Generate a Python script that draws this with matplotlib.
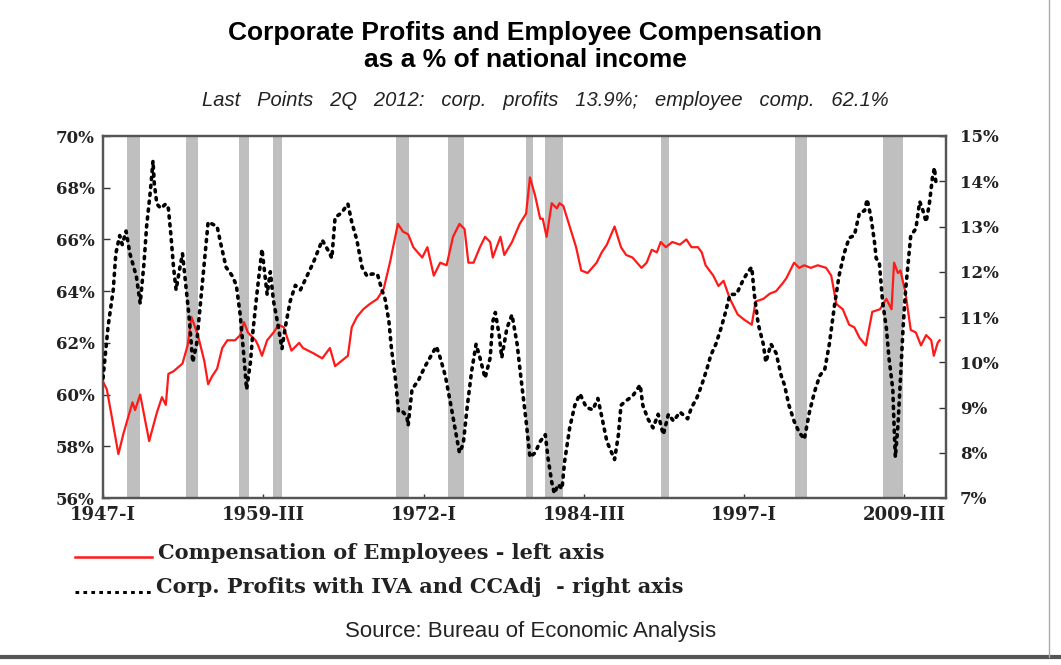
import matplotlib
matplotlib.use("Agg")
import matplotlib.pyplot as plt
from matplotlib.lines import Line2D

# ---------------- data ----------------
comp_years = [1947.0, 1947.3, 1947.7, 1948.2, 1948.6, 1949.3, 1949.5, 1949.9, 1950.6, 1951.2,
              1951.6, 1951.9, 1952.1, 1952.5, 1953.2, 1953.6, 1953.9, 1954.4, 1954.9, 1955.2,
              1955.5, 1955.9, 1956.3, 1956.7, 1957.3, 1957.7, 1958.0, 1958.3, 1958.9, 1959.1,
              1959.4, 1959.8, 1960.3, 1960.7, 1961.1, 1961.7, 1962.3, 1962.6, 1963.4, 1964.1,
              1964.7, 1965.1, 1965.6, 1966.1, 1966.4, 1966.8, 1967.3, 1967.8, 1968.4, 1968.9,
              1969.4, 1970.0, 1970.4, 1970.8, 1971.2, 1971.9, 1972.3, 1972.8, 1973.3, 1973.8,
              1974.3, 1974.8, 1975.2, 1975.5, 1975.9, 1976.4, 1976.8, 1977.2, 1977.4, 1978.0,
              1978.3, 1978.9, 1979.5, 1980.0, 1980.3, 1980.7, 1981.1, 1981.3, 1981.6, 1982.0,
              1982.4, 1982.6, 1982.9, 1983.4, 1983.9, 1984.3, 1984.8, 1985.5, 1985.9, 1986.3,
              1986.9, 1987.4, 1987.8, 1988.3, 1989.0, 1989.4, 1989.8, 1990.2, 1990.5, 1990.9,
              1991.4, 1992.0, 1992.5, 1992.9, 1993.4, 1993.7, 1994.0, 1994.6, 1995.0, 1995.4,
              1995.9, 1996.5, 1997.0, 1997.6, 1997.9, 1998.5, 1999.0, 1999.5, 2000.0, 2000.3,
              2000.9, 2001.3, 2001.7, 2002.2, 2002.75, 2003.4, 2003.8, 2004.2, 2004.7, 2005.2,
              2005.6, 2006.0, 2006.5, 2007.0, 2007.6, 2008.1, 2008.5, 2008.7, 2009.0, 2009.2,
              2009.6, 2010.0, 2010.4, 2010.8, 2011.2, 2011.6, 2011.8, 2012.1, 2012.25]
comp_values = [60.5, 60.2, 59.1, 57.7, 58.5, 59.7, 59.4, 60.0, 58.2, 59.3,
               59.9, 59.6, 60.8, 60.9, 61.2, 61.9, 63.0, 62.3, 61.3, 60.4,
               60.7, 61.0, 61.8, 62.1, 62.1, 62.3, 62.8, 62.4, 62.1, 61.9,
               61.5, 62.1, 62.4, 62.7, 62.6, 61.7, 62.0, 61.8, 61.6, 61.4,
               61.8, 61.1, 61.3, 61.5, 62.6, 63.0, 63.3, 63.5, 63.7, 64.1,
               65.15, 66.6, 66.3, 66.2, 65.7, 65.3, 65.7, 64.6, 65.1, 65.0,
               66.1, 66.6, 66.4, 65.1, 65.1, 65.7, 66.1, 65.9, 65.3, 66.1,
               65.4, 65.9, 66.6, 67.0, 68.4, 67.7, 66.8, 66.8, 66.1, 67.4,
               67.2, 67.4, 67.3, 66.5, 65.7, 64.8, 64.7, 65.1, 65.5, 65.8,
               66.5, 65.7, 65.4, 65.3, 64.9, 65.1, 65.6, 65.5, 65.9, 65.7,
               65.9, 65.8, 66.0, 65.7, 65.7, 65.5, 65.0, 64.6, 64.2, 64.4,
               63.7, 63.1, 62.9, 62.7, 63.6, 63.7, 63.9, 64.0, 64.3, 64.5,
               65.1, 64.9, 65.0, 64.9, 65.0, 64.9, 64.6, 63.5, 63.3, 62.7,
               62.6, 62.2, 61.9, 63.2, 63.3, 63.7, 63.3, 65.1, 64.7, 64.8,
               63.9, 62.5, 62.4, 61.9, 62.3, 62.1, 61.5, 62.0, 62.1]

profit_years = [1947.0, 1947.4, 1947.8, 1948.0, 1948.3, 1948.5, 1948.8, 1949.1, 1949.4, 1949.6,
                1949.9, 1950.2, 1950.4, 1950.7, 1950.9, 1951.0, 1951.2, 1951.5, 1951.9, 1952.1,
                1952.3, 1952.5, 1952.7, 1953.0, 1953.2, 1953.5, 1953.7, 1954.0, 1954.3, 1954.6,
                1954.9, 1955.2, 1955.9, 1956.2, 1956.6, 1957.1, 1957.4, 1957.7, 1958.0, 1958.2,
                1958.5, 1958.7, 1959.0, 1959.4, 1959.8, 1960.05, 1960.3, 1960.6, 1960.96, 1961.2,
                1961.6, 1962.0, 1962.4, 1962.9, 1963.4, 1964.1, 1964.6, 1964.85, 1965.1, 1965.6,
                1966.1, 1966.4, 1966.8, 1967.2, 1967.6, 1967.95, 1968.4, 1968.75, 1969.0, 1969.3,
                1969.5, 1969.8, 1970.05, 1970.4, 1970.7, 1970.8, 1971.1, 1971.6, 1972.1, 1972.5,
                1973.0, 1973.3, 1973.7, 1974.1, 1974.45, 1974.8, 1975.1, 1975.4, 1975.75, 1976.1,
                1976.4, 1976.8, 1977.2, 1977.4, 1977.6, 1977.9, 1978.1, 1978.5, 1978.9, 1979.3,
                1979.6, 1980.0, 1980.3, 1980.7, 1981.1, 1981.5, 1981.7, 1982.0, 1982.2, 1982.5,
                1982.8, 1983.0, 1983.4, 1983.8, 1984.2, 1984.7, 1985.2, 1985.6, 1985.9, 1986.3,
                1986.9, 1987.2, 1987.4, 1987.8, 1988.3, 1988.9, 1989.1, 1989.5, 1989.9, 1990.3,
                1990.7, 1991.1, 1991.5, 1992.0, 1992.6, 1992.9, 1993.3, 1993.7, 1994.1, 1994.4,
                1994.8, 1995.2, 1995.5, 1995.9, 1996.4, 1996.9, 1997.3, 1997.6, 1997.8, 1998.1,
                1998.5, 1998.7, 1999.1, 1999.5, 1999.9, 2000.15, 2000.5, 2000.9, 2001.3, 2001.7,
                2002.1, 2002.5, 2002.9, 2003.3, 2003.65, 2004.05, 2004.4, 2004.8, 2005.2, 2005.6,
                2006.0, 2006.4, 2006.6, 2006.9, 2007.2, 2007.3, 2007.55, 2007.8, 2008.1, 2008.3,
                2008.6, 2008.7, 2008.8, 2009.0, 2009.2, 2009.4, 2009.6, 2010.0, 2010.4, 2010.7,
                2010.9, 2011.2, 2011.45, 2011.7, 2011.85, 2011.95, 2012.25]
profit_values = [9.65, 10.8, 11.6, 12.4, 12.8, 12.6, 12.9, 12.4, 12.1, 11.9,
                 11.3, 12.2, 13.0, 13.8, 14.45, 13.95, 13.5, 13.4, 13.5, 13.4,
                 12.8, 12.1, 11.6, 12.1, 12.4, 11.6, 11.05, 10.0, 10.4, 11.3,
                 12.2, 13.1, 13.0, 12.6, 12.1, 11.9, 11.7, 11.05, 10.1, 9.4,
                 10.0, 10.7, 11.5, 12.5, 11.5, 12.0, 11.35, 10.9, 10.3, 10.75,
                 11.35, 11.7, 11.6, 11.9, 12.2, 12.7, 12.45, 12.3, 13.2, 13.3,
                 13.5, 13.1, 12.7, 12.1, 11.9, 11.95, 11.95, 11.6, 11.4, 10.9,
                 10.3, 9.65, 8.9, 8.9, 8.8, 8.6, 9.4, 9.6, 9.9, 10.1,
                 10.35, 10.1, 9.7, 9.1, 8.55, 8.0, 8.2, 9.0, 9.8, 10.4,
                 10.1, 9.65, 10.1, 10.9, 11.1, 10.6, 10.1, 10.75, 11.05, 10.4,
                 9.65, 8.7, 7.9, 8.0, 8.25, 8.4, 7.9, 7.35, 7.1, 7.3,
                 7.2, 7.8, 8.55, 9.05, 9.3, 9.0, 8.95, 9.2, 8.8, 8.25,
                 7.85, 8.4, 9.05, 9.15, 9.25, 9.5, 9.05, 8.75, 8.55, 8.85,
                 8.4, 8.85, 8.7, 8.9, 8.75, 9.0, 9.2, 9.5, 9.85, 10.15,
                 10.4, 10.75, 11.05, 11.5, 11.5, 11.8, 12.0, 12.1, 11.5, 10.85,
                 10.4, 10.0, 10.4, 10.2, 9.7, 9.5, 9.05, 8.7, 8.45, 8.3,
                 8.9, 9.35, 9.7, 9.85, 10.4, 11.25, 11.9, 12.4, 12.75, 12.8,
                 13.3, 13.35, 13.6, 13.2, 12.6, 12.3, 12.2, 11.35, 10.75, 10.1,
                 9.4, 8.6, 7.9, 8.6, 9.65, 10.75, 11.6, 12.8, 12.95, 13.55,
                 13.4, 13.1, 13.5, 14.1, 14.3, 14.0, 13.9]

recession_starts = [1948.875, 1953.5, 1957.625, 1960.25, 1969.875, 1973.875, 1980.0, 1981.5, 1990.5, 2001.0, 2007.875]
recession_ends = [1949.875, 1954.375, 1958.375, 1961.0, 1970.875, 1975.125, 1980.5, 1982.875, 1991.125, 2001.875, 2009.375]

xtick_pos = [1947.0, 1959.5, 1972.0, 1984.5, 1997.0, 2009.5]
xtick_labels = ["1947-I", "1959-III", "1972-I", "1984-III", "1997-I", "2009-III"]
left_ticks = [56, 58, 60, 62, 64, 66, 68, 70]
right_ticks = [7, 8, 9, 10, 11, 12, 13, 14, 15]

# ---------------- figure ----------------
W, H = 1061, 665
fig = plt.figure(figsize=(W / 100, H / 100), dpi=100)
fig.patch.set_facecolor("white")

ax = fig.add_axes([103 / W, 1 - 498 / H, (946 - 103) / W, (498 - 136) / H])
ax2 = ax.twinx()

for s, e in zip(recession_starts, recession_ends):
    ax.axvspan(s, e, color="#bfbfbf", lw=0, zorder=0)

ax.plot(comp_years, comp_values, color="#ff1a1a", lw=1.6, zorder=3)
ax2.plot(profit_years, profit_values, color="black", lw=2.6,
         linestyle=(0, (0.6, 1.6)), dash_capstyle="round", zorder=3)

ax.set_xlim(1947.0, 2012.75)
ax.set_ylim(56, 70)
ax2.set_ylim(7, 15)

serif = ["DejaVu Serif"]
ax.set_yticks(left_ticks)
ax.set_yticklabels([f"{v}%" for v in left_ticks], fontfamily=serif, fontsize=12, fontweight="bold")
ax2.set_yticks(right_ticks)
ax2.set_yticklabels([f"{v}%" for v in right_ticks], fontfamily=serif, fontsize=12, fontweight="bold")
ax.set_xticks(xtick_pos)
ax.set_xticklabels(xtick_labels, fontfamily=serif, fontsize=13, fontweight="bold")

ax.tick_params(axis="y", direction="in", length=5, width=1, pad=6, colors="#333333", labelcolor="#222222")
ax2.tick_params(axis="y", direction="in", length=5, width=1, pad=10, colors="#333333", labelcolor="#222222")
ax.tick_params(axis="x", direction="in", length=3, width=1, pad=6, colors="#333333", labelcolor="#222222")

for a in (ax, ax2):
    for sp in a.spines.values():
        sp.set_color("#555555")
        sp.set_linewidth(1.6)

# ---------------- titles ----------------
fig.text(525 / W, 1 - 33 / H, "Corporate Profits and Employee Compensation",
         ha="center", va="center", fontsize=19, fontweight="bold", fontfamily="Liberation Sans")
fig.text(525 / W, 1 - 60 / H, "as a % of national income",
         ha="center", va="center", fontsize=19, fontweight="bold", fontfamily="Liberation Sans")
fig.text(545 / W, 1 - 101 / H, "Last   Points   2Q   2012:   corp.   profits   13.9%;   employee   comp.   62.1%",
         ha="center", va="center", fontsize=14.5, fontstyle="italic", fontfamily="Liberation Sans", color="#222222")

# ---------------- legend ----------------
fig.add_artist(Line2D([75 / W, 152 / W], [1 - 557 / H, 1 - 557 / H], color="#ff1a1a", lw=1.8))
fig.text(158 / W, 1 - 553 / H, "Compensation of Employees - left axis", ha="left", va="center",
         fontsize=15, fontweight="bold", fontfamily=serif, color="#222222")
fig.add_artist(Line2D([75 / W, 152 / W], [1 - 592 / H, 1 - 592 / H], color="black", lw=2.2,
                      linestyle=(0, (1.2, 1.4))))
fig.text(156 / W, 1 - 587 / H, "Corp. Profits with IVA and CCAdj  - right axis", ha="left", va="center",
         fontsize=15, fontweight="bold", fontfamily=serif, color="#222222")
fig.text(531 / W, 1 - 631 / H, "Source: Bureau of Economic Analysis", ha="center", va="center",
         fontsize=16, fontfamily="Liberation Sans", color="#222222")

# border lines
fig.add_artist(Line2D([0, 1], [1 - 657 / H, 1 - 657 / H], color="#555555", lw=3))
fig.add_artist(Line2D([1049 / W, 1049 / W], [1 - 657 / H, 1], color="#aaaaaa", lw=1))

fig.savefig("out.png", dpi=100, facecolor="white")
